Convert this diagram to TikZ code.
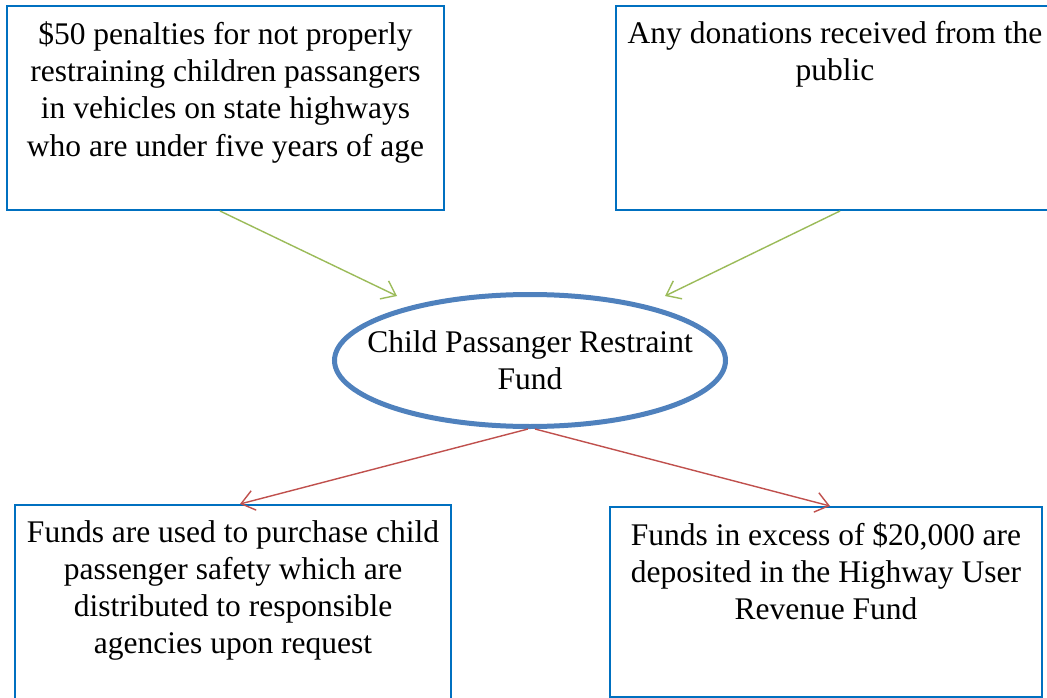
\documentclass[tikz,border=0pt]{standalone}
\usepackage{fontspec}
\setmainfont{Liberation Serif}
\usetikzlibrary{arrows.meta,shapes.geometric}
\definecolor{boxblue}{RGB}{0,112,192}
\definecolor{ellblue}{RGB}{79,129,189}
\definecolor{arrgreen}{RGB}{155,187,89}
\definecolor{arrred}{RGB}{192,80,77}
\begin{document}
\begin{tikzpicture}[x=1pt,y=-1pt,
  boxstyle/.style={draw=boxblue, line width=2pt, rectangle, inner sep=0pt},
  txt/.style={font=\fontsize{31.5}{37.2}\selectfont, align=center, anchor=north, inner sep=0pt},
  greenarr/.style={draw=arrgreen, line width=1.4pt, -{Straight Barb[length=13pt,width=20pt]}},
  redarr/.style={draw=arrred, line width=1.4pt, -{Straight Barb[length=13pt,width=20pt]}}]
\useasboundingbox (0,0) rectangle (1047,698);
\fill[white] (0,0) rectangle (1047,698);
% boxes
\node[boxstyle, minimum width=437pt, minimum height=204pt] (tl) at (225.5,108) {};
\node[boxstyle, minimum width=438pt, minimum height=204pt] (tr) at (835,108) {};
\node[boxstyle, minimum width=436pt, minimum height=204pt] (bl) at (233,607) {};
\node[boxstyle, minimum width=432pt, minimum height=190pt] (br) at (826,602) {};
% texts
\node[txt] (tlt) at (225.5,21.5) {\$50 penalties for not properly\\restraining children passangers\\in vehicles on state highways\\who are under five years of age};
\node[txt] (trt) at (835,21) {Any donations received from the\\public};
\node[txt] (blt) at (233,520) {Funds are used to purchase child\\passenger safety which are\\distributed to responsible\\agencies upon request};
\node[txt] (brt) at (826,522) {Funds in excess of \$20,000 are\\deposited in the Highway User\\Revenue Fund};
% ellipse
\node[ellipse, draw=ellblue, line width=5pt, minimum width=391pt, minimum height=132pt, inner sep=0pt] (ell) at (530,360.5) {};
\node[txt, anchor=center] (ellt) at (ell.center) {Child Passanger Restraint\\Fund};
% arrow end points
\coordinate (g1end) at (397,296);
\coordinate (g2end) at (665,296);
\coordinate (r1end) at (240,504);
\coordinate (r2end) at (830,506);
\draw[greenarr] ([xshift=-5.5pt]tl.south) -- (g1end);
\draw[greenarr] ([xshift=5pt]tr.south) -- (g2end);
\draw[redarr] ([xshift=-2pt]ell.south) -- (r1end);
\draw[redarr] ([xshift=5pt]ell.south) -- (r2end);
\end{tikzpicture}
\end{document}
